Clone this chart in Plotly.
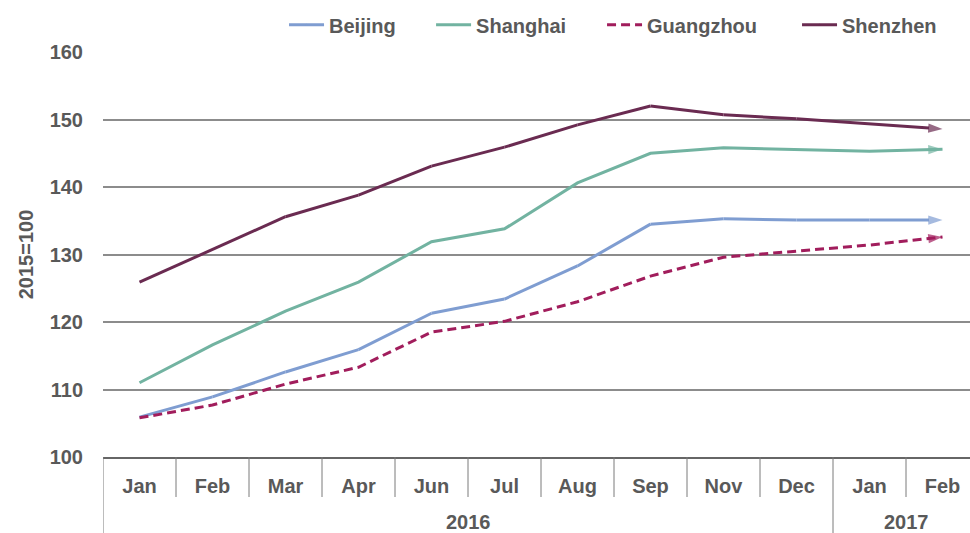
import plotly.graph_objects as go

years = ["2016"] * 10 + ["2017"] * 2
months = ["Jan", "Feb", "Mar", "Apr", "Jun", "Jul", "Aug", "Sep", "Nov", "Dec", "Jan", "Feb"]

beijing = [105.9, 108.9, 112.6, 115.9, 121.3, 123.4, 128.3, 134.5, 135.3, 135.1, 135.1, 135.1]
shanghai = [111.0, 116.6, 121.6, 125.9, 131.9, 133.8, 140.6, 145.0, 145.8, 145.5, 145.3, 145.6]
guangzhou = [105.8, 107.7, 110.8, 113.3, 118.5, 120.1, 123.0, 126.8, 129.6, 130.5, 131.4, 132.6]
shenzhen = [125.9, 130.7, 135.6, 138.8, 143.1, 145.9, 149.2, 152.0, 150.7, 150.1, 149.3, 148.6]

series = [
    ("Beijing", beijing, "#7f9dd1", "solid"),
    ("Shanghai", shanghai, "#72b3a1", "solid"),
    ("Guangzhou", guangzhou, "#a11d5c", "9px,5px"),
    ("Shenzhen", shenzhen, "#6a2b51", "solid"),
]
legend_x = [0.2088, 0.3784, 0.5756, 0.8005]

FONT = "Liberation Sans"
GREY = "#595959"
DIV = "#7a7a7a"
H_PLOT = 405  # plot height in px

keys = [f"{y} {m}" for y, m in zip(years, months)]
n = len(keys)

fig = go.Figure()
for i, (name, vals, color, dash) in enumerate(series):
    lg = "legend" if i == 0 else f"legend{i + 1}"
    fig.add_trace(go.Scatter(
        x=keys, y=vals, name=name, mode="lines+markers", legend=lg,
        line=dict(color=color, width=3, dash=dash),
        marker=dict(symbol=["circle"] * (n - 1) + ["arrow"],
                    size=[0] * (n - 1) + [15], angleref="previous",
                    color=color, line=dict(width=0)),
    ))

# dividers between categories
shapes = []
for i in range(1, n):
    group_break = years[i] != years[i - 1]
    shapes.append(dict(type="line", xref="x", yref="paper", x0=i - 0.5, x1=i - 0.5,
                       y0=0, y1=(-76 if group_break else -40) / H_PLOT,
                       line=dict(color=DIV, width=1)))
shapes.append(dict(type="line", xref="x", yref="paper", x0=-0.5, x1=-0.5,
                   y0=0, y1=-76 / H_PLOT, line=dict(color=DIV, width=1)))

# year group labels
annotations = []
for yr in dict.fromkeys(years):
    idx = [i for i, y in enumerate(years) if y == yr]
    annotations.append(dict(xref="x", yref="paper", x=(idx[0] + idx[-1]) / 2,
                            y=-65 / H_PLOT, yanchor="middle", text=yr, showarrow=False,
                            font=dict(family=FONT, size=20, color=GREY, weight="bold")))

legend_common = dict(orientation="h", xanchor="left", yanchor="middle", y=1.067,
                     bgcolor="rgba(0,0,0,0)", itemwidth=35,
                     font=dict(family=FONT, size=20, color=GREY, weight="bold"))
layout_legends = {}
for i, lx in enumerate(legend_x):
    key = "legend" if i == 0 else f"legend{i + 1}"
    layout_legends[key] = dict(legend_common, x=lx)

fig.update_layout(
    width=970, height=533,
    margin=dict(l=103, r=0, t=52, b=76, autoexpand=False),
    paper_bgcolor="white", plot_bgcolor="white",
    font=dict(family=FONT, size=20, color=GREY),
    showlegend=True,
    shapes=shapes, annotations=annotations,
    xaxis=dict(type="category", range=[-0.5, n - 0.5 - 9 / 73], showgrid=False,
               showline=True, linecolor="#666666", linewidth=1.5, ticks="",
               tickmode="array", tickvals=keys, ticktext=months, ticklabelstandoff=10,
               automargin=False,
               tickfont=dict(family=FONT, size=20, color=GREY, weight="bold")),
    yaxis=dict(range=[100, 160], dtick=10, showgrid=True, gridcolor="#8c8c8c", gridwidth=1.5,
               zeroline=False, showline=False, ticks="", ticklabelstandoff=19,
               automargin=False,
               tickfont=dict(family=FONT, size=20, color=GREY, weight="bold"),
               title=dict(text="2015=100", standoff=10,
                          font=dict(family=FONT, size=20, color=GREY, weight="bold"))),
    **layout_legends,
)

fig.write_html("out.html")
